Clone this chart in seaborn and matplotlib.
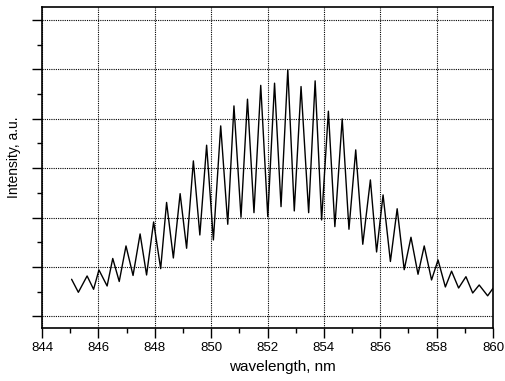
import matplotlib
matplotlib.use("Agg")
import matplotlib.pyplot as plt
import seaborn as sns
import pandas as pd
from matplotlib.ticker import MultipleLocator, NullFormatter

wavelength = [845.05, 845.29, 845.60, 845.83, 846.02, 846.31, 846.51, 846.74, 846.98, 847.23,
              847.48, 847.71, 847.96, 848.21, 848.42, 848.66, 848.90, 849.13, 849.37, 849.60,
              849.84, 850.08, 850.34, 850.59, 850.81, 851.06, 851.29, 851.52, 851.76, 852.01,
              852.25, 852.48, 852.72, 852.95, 853.19, 853.46, 853.69, 853.92, 854.16, 854.39,
              854.65, 854.89, 855.13, 855.38, 855.65, 855.87, 856.10, 856.36, 856.60, 856.85,
              857.09, 857.34, 857.56, 857.82, 858.05, 858.31, 858.53, 858.78, 859.04, 859.28,
              859.51, 859.81, 860.00]
intensity = [0.750, 0.486, 0.817, 0.547, 0.938, 0.614, 1.171, 0.705, 1.425, 0.827,
             1.668, 0.837, 1.911, 0.965, 2.306, 1.181, 2.484, 1.378, 3.147, 1.647,
             3.465, 1.546, 3.856, 1.864, 4.261, 2.006, 4.397, 2.099, 4.677, 2.018,
             4.721, 2.221, 4.997, 2.134, 4.653, 2.099, 4.768, 1.951, 4.154, 1.816,
             3.998, 1.763, 3.370, 1.459, 2.762, 1.303, 2.458, 1.110, 2.178, 0.944,
             1.601, 0.851, 1.425, 0.736, 1.141, 0.594, 0.914, 0.573, 0.802, 0.472,
             0.634, 0.415, 0.567]
x_ticks = [844, 846, 848, 850, 852, 854, 856, 858, 860]

df = pd.DataFrame({"wavelength": wavelength, "intensity": intensity})

sns.set_theme(style="white")
plt.rcParams["font.family"] = ["Liberation Sans", "DejaVu Sans"]

fig = plt.figure(figsize=(5.05, 3.81), dpi=100)
ax = fig.add_axes([42 / 505, 1 - 328 / 381, 451 / 505, 321 / 381])

sns.lineplot(data=df, x="wavelength", y="intensity", color="black", linewidth=1.0,
             sort=False, ax=ax)

ax.set_xlim(844, 860)
ax.set_ylim(-0.237, 6.264)
ax.set_xticks(x_ticks)
ax.set_xticklabels([str(t) for t in x_ticks], fontsize=9.5)
ax.xaxis.set_minor_locator(MultipleLocator(1))
ax.yaxis.set_major_locator(MultipleLocator(1))
ax.yaxis.set_minor_locator(MultipleLocator(0.5))
ax.yaxis.set_major_formatter(NullFormatter())

ax.tick_params(axis="both", which="major", direction="out", length=7, width=1.0,
               color="black", pad=3, labelcolor="black")
ax.tick_params(axis="both", which="minor", direction="out", length=3.5, width=1.0,
               color="black")
ax.tick_params(left=True, bottom=True, top=False, right=False)
ax.tick_params(which="minor", left=True, bottom=True, top=False, right=False)

ax.grid(True, which="major", linestyle=(0, (1, 1)), color="black", linewidth=0.8)
for s in ax.spines.values():
    s.set_visible(True)
    s.set_color("black")
    s.set_linewidth(1.2)

ax.set_xlabel("wavelength, nm", fontsize=11, color="black")
ax.set_ylabel("Intensity, a.u.", fontsize=10, color="black")
ax.xaxis.set_label_coords(0.533, -0.100)
ax.yaxis.set_label_coords(-0.047, 0.531)

fig.savefig("out.png", dpi=100)
